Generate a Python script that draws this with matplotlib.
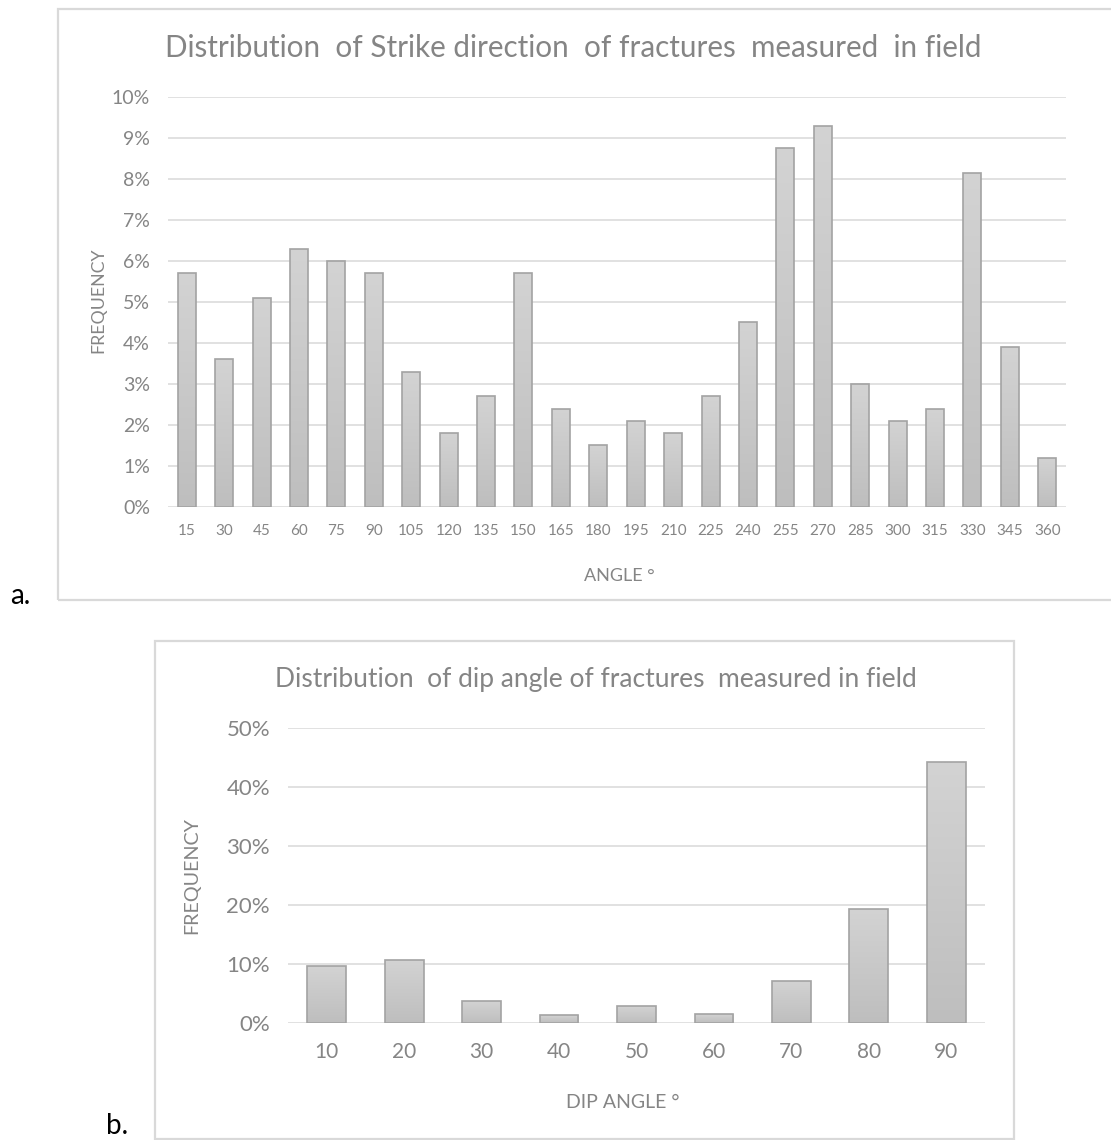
import numpy as np
import matplotlib
matplotlib.use("Agg")
import matplotlib.pyplot as plt
from matplotlib.patches import Rectangle
from matplotlib.colors import LinearSegmentedColormap

plt.rcParams['font.family'] = ['Lato', 'DejaVu Sans']

# Strike direction histogram (percent of fractures per 15° class)
strike_angles = [15, 30, 45, 60, 75, 90, 105, 120, 135, 150, 165, 180,
                 195, 210, 225, 240, 255, 270, 285, 300, 315, 330, 345, 360]
strike_freq = [5.7, 3.6, 5.1, 6.3, 6.0, 5.7, 3.3, 1.8, 2.7, 5.7, 2.4, 1.5,
               2.1, 1.8, 2.7, 4.5, 8.75, 9.3, 3.0, 2.1, 2.4, 8.15, 3.9, 1.2]
strike_yticks = list(range(0, 11))

# Dip angle histogram (percent of fractures per 10° class)
dip_angles = [10, 20, 30, 40, 50, 60, 70, 80, 90]
dip_freq = [9.6, 10.7, 3.7, 1.3, 2.8, 1.5, 7.2, 19.4, 44.2]
dip_yticks = [0, 10, 20, 30, 40, 50]

W, H = 1111, 1140
fig = plt.figure(figsize=(W / 100, H / 100), dpi=100)

TXT = '#858585'
GRID = '#d9d9d9'
EDGE = '#a3a3a3'
shade = LinearSegmentedColormap.from_list('shade', ['#bebebe', '#d3d3d3'])


def px_axes(left, top, right, bottom):
    return fig.add_axes([left / W, 1 - bottom / H, (right - left) / W, (bottom - top) / H])


def frame(left, top, right, bottom):
    fig.patches.append(Rectangle((left / W, 1 - bottom / H), (right - left) / W,
                                 (bottom - top) / H, transform=fig.transFigure,
                                 fill=False, edgecolor=GRID, linewidth=1.6, zorder=0))


def gradient_bars(ax, x, heights, width):
    bars = ax.bar(x, heights, width=width, color='none', edgecolor=EDGE,
                  linewidth=1.2, zorder=3)
    grad = np.linspace(0, 1, 256).reshape(-1, 1)
    for b in bars:
        x0, w, h = b.get_x(), b.get_width(), b.get_height()
        im = ax.imshow(grad, cmap=shade, origin='lower', aspect='auto',
                       extent=[x0, x0 + w, 0, h], zorder=2)
        im.set_clip_path(b)
    return bars


def style(ax, n, yticks, ylabels, xlabels, ytick_size, xtick_size):
    ax.set_xlim(-0.5, n - 0.5)
    ax.set_ylim(yticks[0], yticks[-1])
    ax.set_yticks(yticks)
    ax.set_yticklabels(ylabels, fontsize=ytick_size, color=TXT)
    ax.set_xticks(range(n))
    ax.set_xticklabels(xlabels, fontsize=xtick_size, color=TXT)
    ax.tick_params(length=0)
    ax.grid(axis='y', color=GRID, linewidth=1.1, zorder=1)
    ax.set_axisbelow(True)
    for s in ax.spines.values():
        s.set_visible(False)
    ax.set_facecolor('none')


# ---- a. strike direction ----
frame(58, 9, 1113, 600)
ax1 = px_axes(168, 97, 1066, 507)
n1 = len(strike_angles)
gradient_bars(ax1, range(n1), strike_freq, 0.48)
style(ax1, n1, strike_yticks, [f'{v}%' for v in strike_yticks],
      [str(a) for a in strike_angles], 14, 11)
ax1.tick_params(axis='y', pad=13)
ax1.tick_params(axis='x', pad=12)
fig.text(573 / W, 1 - 48 / H, 'Distribution  of Strike direction  of fractures  measured  in field',
         ha='center', va='center', fontsize=21.3, color=TXT)
fig.text(98 / W, 1 - 300 / H, 'FREQUENCY', rotation=90, ha='center', va='center',
         fontsize=12.8, color=TXT)
fig.text(619 / W, 1 - 576 / H, 'ANGLE °', ha='center', va='center', fontsize=13, color=TXT)
fig.text(10 / W, 1 - 596 / H, 'a.', ha='left', va='center', fontsize=20, color='black')

# ---- b. dip angle ----
frame(155, 641, 1014, 1139)
ax2 = px_axes(288, 728, 985, 1023)
n2 = len(dip_angles)
gradient_bars(ax2, range(n2), dip_freq, 0.5)
style(ax2, n2, dip_yticks, [f'{v}%' for v in dip_yticks],
      [str(a) for a in dip_angles], 16, 15)
ax2.tick_params(axis='y', pad=13)
ax2.tick_params(axis='x', pad=14)
fig.text(596 / W, 1 - 679 / H, 'Distribution  of dip angle of fractures  measured in field',
         ha='center', va='center', fontsize=19, color=TXT)
fig.text(192 / W, 1 - 875 / H, 'FREQUENCY', rotation=90, ha='center', va='center',
         fontsize=14.2, color=TXT)
fig.text(623 / W, 1 - 1103 / H, 'DIP ANGLE °', ha='center', va='center', fontsize=14, color=TXT)
fig.text(106 / W, 1 - 1126 / H, 'b.', ha='left', va='center', fontsize=20, color='black')

fig.savefig('out.png', dpi=100, facecolor='white')
